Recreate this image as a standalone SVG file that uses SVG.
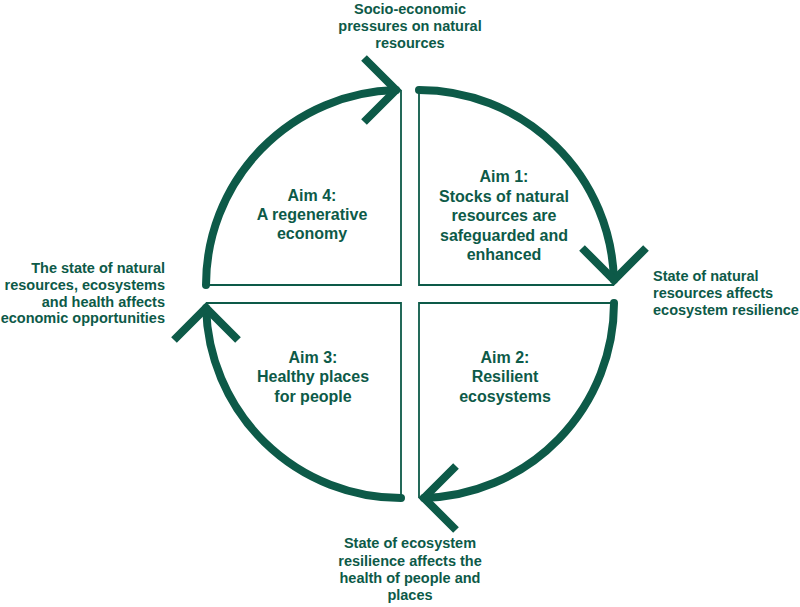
<svg xmlns="http://www.w3.org/2000/svg" width="800" height="607" viewBox="0 0 800 607">
<style>
.edge{fill:none;stroke:#0d5a48;stroke-width:1.8}
.arc{fill:none;stroke:#0d5a48;stroke-width:8;stroke-linecap:round}
.head{fill:none;stroke:#0d5a48;stroke-width:8;stroke-linejoin:miter;stroke-miterlimit:10;stroke-linecap:butt}
.aim{font-family:"Liberation Sans",Arial,sans-serif;font-weight:bold;font-size:16px;fill:#0d5a48;text-anchor:middle}
.lbl{font-family:"Liberation Sans",Arial,sans-serif;font-weight:bold;font-size:14.5px;fill:#0d5a48}
</style>
<rect width="800" height="607" fill="#ffffff"/>
<g id="aim1">
<path class="edge" d="M419,90 V285 H614"/>
<text class="aim" x="504" y="182">Aim 1:</text>
<text class="aim" x="504" y="201.5">Stocks of natural</text>
<text class="aim" x="504" y="221">resources are</text>
<text class="aim" x="504" y="240.5">safeguarded and</text>
<text class="aim" x="504" y="260">enhanced</text>
</g>
<g id="aim2">
<path class="edge" d="M419,498 V303 H614"/>
<text class="aim" x="505" y="362.5">Aim 2:</text>
<text class="aim" x="505" y="382">Resilient</text>
<text class="aim" x="505" y="401.5">ecosystems</text>
</g>
<g id="aim3">
<path class="edge" d="M206,303 H401 V498"/>
<text class="aim" x="313" y="362.5">Aim 3:</text>
<text class="aim" x="313" y="382">Healthy places</text>
<text class="aim" x="313" y="401.5">for people</text>
</g>
<g id="aim4">
<path class="edge" d="M206,285 H401 V90"/>
<text class="aim" x="312" y="201">Aim 4:</text>
<text class="aim" x="312" y="220">A regenerative</text>
<text class="aim" x="312" y="239">economy</text>
</g>
<g id="connectors">
<path class="arc" d="M419,90 A195,195 0 0 1 613.9,280"/>
<path class="head" d="M582,248 L614,280 L646,248"/>
<path class="arc" d="M614,303 A195,195 0 0 1 424,497.9"/>
<path class="head" d="M456,466 L424,498 L456,530"/>
<path class="arc" d="M401,498 A195,195 0 0 1 206.1,308"/>
<path class="head" d="M174,340 L206,308 L238,340"/>
<path class="arc" d="M206,285 A195,195 0 0 1 396,90.1"/>
<path class="head" d="M364,58 L396,90 L364,122"/>
</g>
<g id="labels">
<text class="lbl" text-anchor="middle" x="410" y="14">Socio-economic</text>
<text class="lbl" text-anchor="middle" x="410" y="31">pressures on natural</text>
<text class="lbl" text-anchor="middle" x="410" y="48">resources</text>
<text class="lbl" x="653" y="281">State of natural</text>
<text class="lbl" x="653" y="298">resources affects</text>
<text class="lbl" x="653" y="315">ecosystem resilience</text>
<text class="lbl" text-anchor="middle" x="410" y="548">State of ecosystem</text>
<text class="lbl" text-anchor="middle" x="410" y="566">resilience affects the</text>
<text class="lbl" text-anchor="middle" x="410" y="583">health of people and</text>
<text class="lbl" text-anchor="middle" x="410" y="600">places</text>
<text class="lbl" text-anchor="end" x="165" y="273">The state of natural</text>
<text class="lbl" text-anchor="end" x="165" y="290">resources, ecosystems</text>
<text class="lbl" text-anchor="end" x="165" y="307">and health affects</text>
<text class="lbl" text-anchor="end" x="165" y="323">economic opportunities</text>
</g>
</svg>
